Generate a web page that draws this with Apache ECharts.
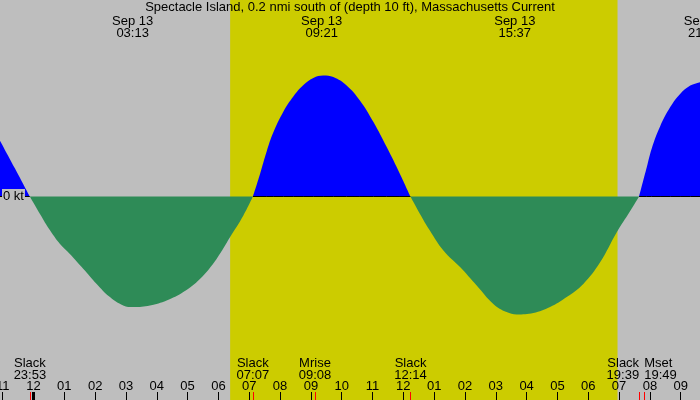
<!DOCTYPE html>
<html>
<head>
<meta charset="utf-8">
<title>Spectacle Island current</title>
<script src="https://cdn.jsdelivr.net/npm/echarts@6.0.0/dist/echarts.min.js"></script>
<style>
	html, body { margin:0; padding:0; background:#bebebe; }
	#chart { width:700px; height:400px; }
</style>
</head>
<body>
<div id="chart"></div>
<script>

	var titleText = 'Spectacle Island, 0.2 nmi south of (depth 10 ft), Massachusetts Current';

	// hours counted from midnight Sep 13 (negative = Sep 12), current in knots (+ flood, - ebb)
	var curveHours = [-1.09, -0.60, -0.12, 0.21, 0.54, 0.86, 1.18, 1.62, 2.05, 2.48, 2.91, 3.24, 3.78, 4.32, 4.86, 5.40, 5.94, 6.38, 6.81, 7.12,
		7.35, 7.57, 7.78, 8.11, 8.43, 8.75, 9.08, 9.40, 9.73, 10.16, 10.59, 11.03, 11.46, 11.89, 12.23,
		12.54, 12.86, 13.30, 13.84, 14.38, 14.92, 15.35, 15.68, 16.22, 16.76, 17.30, 17.84, 18.38, 18.92, 19.35, 19.65,
		19.90, 20.06, 20.33, 20.66, 20.98, 21.31, 21.63, 21.77, 22.20];
	var curveKnots = [0.28, 0.14, 0, -0.087, -0.17, -0.237, -0.287, -0.362, -0.437, -0.503, -0.545, -0.553, -0.545, -0.52, -0.478, -0.412, -0.312, -0.203, -0.095, 0,
		0.113, 0.228, 0.32, 0.425, 0.5, 0.556, 0.593, 0.605, 0.597, 0.555, 0.48, 0.372, 0.247, 0.113, 0,
		-0.087, -0.17, -0.27, -0.353, -0.445, -0.537, -0.578, -0.59, -0.583, -0.553, -0.503, -0.437, -0.33, -0.18, -0.075, 0,
		0.147, 0.24, 0.35, 0.447, 0.513, 0.555, 0.572, 0.58, 0.57];

	var hourTicks = [-1, 0, 1, 2, 3, 4, 5, 6, 7, 8, 9, 10, 11, 12, 13, 14, 15, 16, 17, 18, 19, 20, 21, 22, 23];
	var hourLabels = ['11', '12', '01', '02', '03', '04', '05', '06', '07', '08', '09', '10', '11',
		'12', '01', '02', '03', '04', '05', '06', '07', '08', '09', '10', '11'];

	var eventHours = [-0.117, 7.117, 9.133, 12.233, 19.65, 19.817];
	var eventNames = ['Slack', 'Slack', 'Mrise', 'Slack', 'Slack', 'Mset'];
	var eventClock = ['23:53', '07:07', '09:08', '12:14', '19:39', '19:49'];

	var maxHours = [3.217, 9.35, 15.617, 21.767];
	var maxDates = ['Sep 13', 'Sep 13', 'Sep 13', 'Sep 13'];
	var maxClock = ['03:13', '09:21', '15:37', '21:46'];

	var sunrise = 6.38;
	var sunset = 18.95;
	var dayStart = [0];

	var font = 'Liberation Sans';
	var fontSize = 13;
	var pxPerHour = 30.82;
	var xMin = -33.5 / pxPerHour;
	var xMax = xMin + 800 / pxPerHour;

	var floodData = [], ebbData = [], zeroData = [];
	for(var i=0; i<curveHours.length; i++){
		var t = curveHours[i], v = curveKnots[i];
		floodData.push([t, v >= 0 ? v : null]);
		ebbData.push([t, v <= 0 ? v : null]);
		zeroData.push([t, v >= 0 ? 0 : null]);
	}

	function eventLabel(v){
		var k = eventHours.indexOf(v);
		return eventNames[k] + '\n' + eventClock[k];
	}

	function labelAxis(position, values, align, margin, formatter){
		return {
			type: 'value', min: xMin, max: xMax, position: position, z: 10,
			axisLine: {show: false, onZero: false},
			splitLine: {show: false},
			axisTick: {show: false},
			axisLabel: {
				inside: true, margin: margin, customValues: values, align: align,
				color: '#000', fontFamily: font, fontSize: fontSize, lineHeight: 12,
				formatter: formatter
			}
		};
	}

	var chart = echarts.init(document.getElementById('chart'));

	var option = {
		animation: false,
		backgroundColor: '#bebebe',
		title: {
			text: titleText, left: 'center', top: 1, padding: 0,
			textStyle: {fontFamily: font, fontSize: fontSize, fontWeight: 'normal', color: '#000'}
		},
		grid: {left: 0, top: 0, width: 800, height: 400, containLabel: false, outerBoundsMode: 'none'},
		xAxis: [
			{
				type: 'value', min: xMin, max: xMax, position: 'bottom', z: 10,
				axisLine: {show: false, onZero: false},
				splitLine: {show: false},
				axisTick: {inside: true, length: 8, customValues: hourTicks, lineStyle: {color: '#000', width: 1}},
				axisLabel: {
					inside: true, margin: 7, customValues: hourTicks,
					color: '#000', fontFamily: font, fontSize: fontSize,
					formatter: function(v){ return hourLabels[hourTicks.indexOf(v)]; }
				}
			},
			{
				type: 'value', min: xMin, max: xMax, position: 'bottom', z: 11,
				axisLine: {show: false, onZero: false},
				splitLine: {show: false},
				axisTick: {inside: true, length: 8, customValues: eventHours, lineStyle: {color: '#ff0000', width: 1}},
				axisLabel: {
					inside: true, margin: 19, customValues: eventHours.slice(0, 4),
					color: '#000', fontFamily: font, fontSize: fontSize, lineHeight: 12,
					formatter: eventLabel
				}
			},
			labelAxis('top', maxHours, 'center', 15, function(v){
				var k = maxHours.indexOf(v);
				return maxDates[k] + '\n' + maxClock[k];
			}),
			labelAxis('bottom', [eventHours[4]], 'right', 19, eventLabel),
			labelAxis('bottom', [eventHours[5]], 'left', 19, eventLabel),
			{
				type: 'value', min: xMin, max: xMax, position: 'bottom', z: 10,
				axisLine: {show: false, onZero: false},
				splitLine: {show: false},
				axisTick: {inside: true, length: 8, customValues: dayStart, lineStyle: {color: '#000', width: 3}},
				axisLabel: {show: false}
			}
		],
		yAxis: {
			type: 'value', min: -1.0175, max: 0.9825, z: 10,
			axisLine: {show: false, onZero: false},
			splitLine: {show: false},
			axisTick: {show: false},
			axisLabel: {
				inside: true, margin: 2, customValues: [0],
				color: '#000', fontFamily: font, fontSize: fontSize,
				backgroundColor: '#bebebe', padding: [1, 1, 1, 1],
				formatter: function(){ return '0 kt'; }
			}
		},
		series: [
			{
				type: 'line', data: [], z: 1, silent: true,
				markArea: {silent: true, itemStyle: {color: '#cccc00'}, data: [[{xAxis: sunrise}, {xAxis: sunset}]]}
			},
			{
				name: 'flood', type: 'line', data: floodData, symbol: 'none', smooth: 0.4, z: 2, silent: true,
				lineStyle: {width: 0, opacity: 0}, areaStyle: {color: '#0000ff', opacity: 1}
			},
			{
				name: 'ebb', type: 'line', data: ebbData, symbol: 'none', smooth: 0.4, z: 3, silent: true,
				lineStyle: {width: 0, opacity: 0}, areaStyle: {color: '#2e8b57', opacity: 1}
			},
			{
				name: 'zero', type: 'line', data: zeroData, symbol: 'none', z: 4, silent: true,
				lineStyle: {color: '#000', width: 1}
			}
		]
	};

	chart.setOption(option);
</script>
</body>
</html>
